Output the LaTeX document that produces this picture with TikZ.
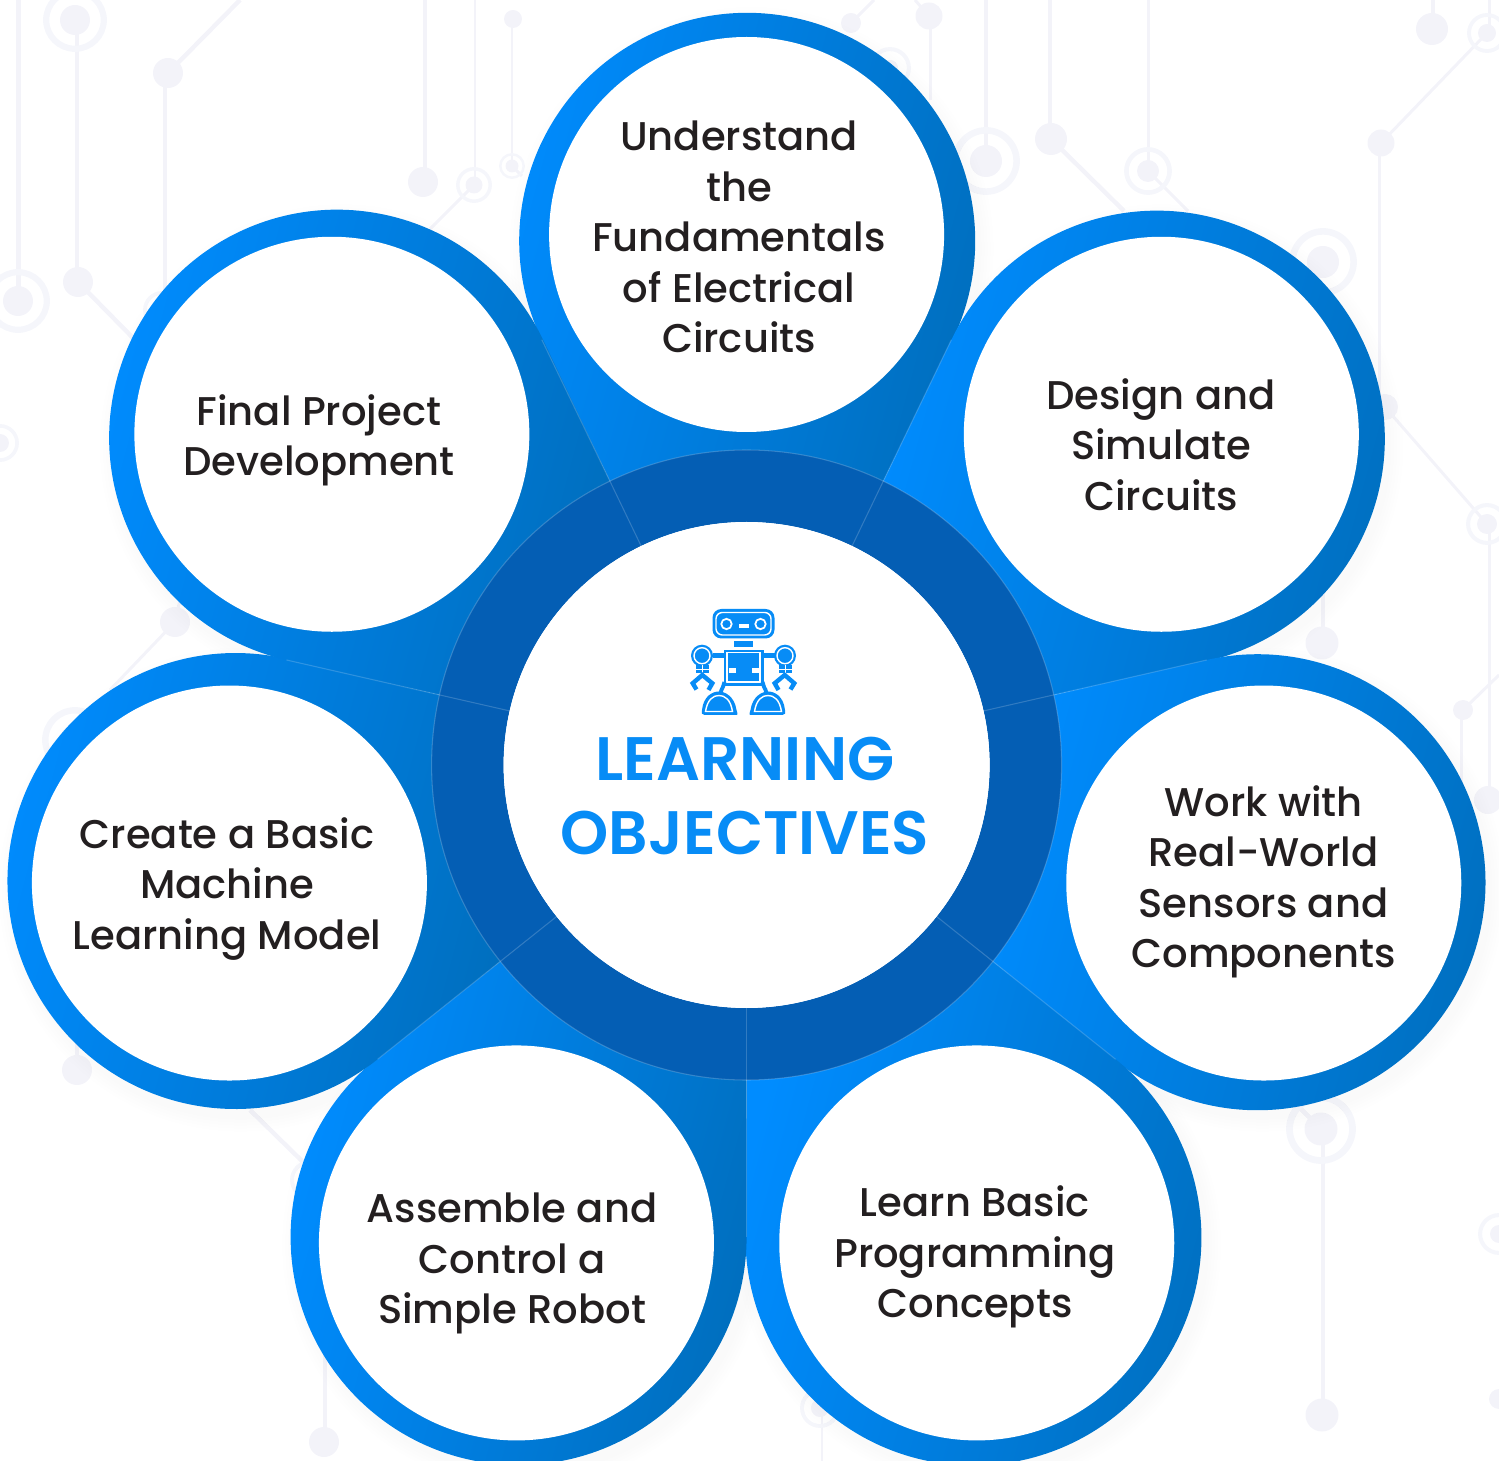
\documentclass[tikz,border=0pt]{standalone}
\usepackage{fontspec}
\setmainfont{Poppins}[UprightFont=* Medium, BoldFont=* SemiBold]
\definecolor{tearLight}{HTML}{008CFF}
\definecolor{tearMid}{HTML}{0085EA}
\definecolor{tearDark}{HTML}{006FBF}
\definecolor{ringBlue}{HTML}{045EB4}
\definecolor{iconBlue}{HTML}{078CF6}
\definecolor{wireGrey}{HTML}{F3F3F9}
\definecolor{haloGrey}{HTML}{F5F6FB}
\definecolor{inkGrey}{HTML}{231F20}

\tikzset{
  tear/.style = {left color=tearLight, middle color=tearMid, right color=tearDark, shading angle=75},
  goaltext/.style = {align=center, inner sep=0pt, text=inkGrey, font=\fontsize{11.4}{14.37}\selectfont},
  wire/.style = {draw=wireGrey, line width=1.25pt},
  thinwire/.style = {draw=wireGrey, line width=0.85pt},
}

\begin{document}
\begin{tikzpicture}[x=0.01cm, y=0.01cm]
    % page %
    \path [use as bounding box, clip] (0, 0) rectangle (1499, -1461) ;
    \coordinate (hub) at (746.6, -765) ;

    % background circuit %

    % thick wires
    \foreach \xa/\ya/\xb/\yb in {18.5/0/18.5/-301, 77/-20/77/-282, 78/-282/135/-340,
        240/0/168/-73, 165/-73/165/-310, 425/0/425/-182, 986/0/986/-161,
        1050/0/1050/-139, 1051/-139/1124/-211, 1433/0/1433/-29, 1323/-590/1323/-643,
        1323/-1129/1323/-1415, 1321/-1129/1298/-1106, 77/-1040/77/-1070,
        250/-1110/303/-1162, 325/-1350/325/-1442}
      \draw [wire] (\xa, \ya) -- (\xb, \yb) ;

    % thin wires
    \foreach \xa/\ya/\xb/\yb in {475/0/475/-185, 474/-185/430/-229, 512/-19/512/-166,
        512/-166/522/-176, 1148/0/1148/-171, 1148/-171/1188/-211, 1381/-143/1487/-33,
        1379/-143/1379/-420, 1489/0/1489/-33, 1385/-407/1487/-524, 1489/-524/1489/-800,
        1463/-710/1499/-675, 1461/-710/1461/-790, 175/-622/110/-690, 175/-622/180/-600,
        822/-1408/822/-1461, 851/-23/874/0, 929/-16/915/0, 930/-16/930/-100}
      \draw [thinwire] (\xa, \ya) -- (\xb, \yb) ;

    % plain dots
    \foreach \x/\y/\r in {168/-73/15, 78/-282/15, 423/-182/15, 513/-19/9, 1051/-139/16,
        1381/-143/13.5, 1432/-29/16, 1385/-407/13, 1322/-643/16.5, 1463/-710/10,
        1488/-800/14, 175/-622/15, 77/-1070/15, 324/-1442/15, 1322/-1415/16.5, 1499/-1399/10,
        851/-23/10, 929/-16/13.5}
      \fill [wireGrey] (\x, \y) circle [radius=\r] ;

    % ringed dots
    \foreach \x/\y/\d/\r in {75/-20/15/32, 18/-301/15/32, 474/-185/8.5/18, 512/-166/6.5/13,
        162/-310/9/19, 986/-161/16/34, 1148/-171/11/24, 1323/-262/16/34, 1487/-33/9/20,
        1487/-524/10/21, 0/-443/9/19, 75/-740/15/33, 310/-1180/9/20, 1321/-1129/16.5/35,
        1499/-1234/9/21, 820/-1408/9/20, 890/-68/8/21} {
      \fill [wireGrey] (\x, \y) circle [radius=\d] ;
      \draw [haloGrey, line width=\r*0.055pt] (\x, \y) circle [radius=\r*0.9] ;
    }


    % petals %
    \begin{scope}[shift={(hub)}]
      % soft shadow below each petal
      \foreach \a in {90, 38.571, -12.857, -64.286, -115.714, -167.143, 141.429}
        \foreach \k in {2, 5, ..., 14}
          \fill [black, opacity=0.004] ([shift={(5, -8)}]\a:524) circle [radius=228+\k] ;

      \foreach \a in {90, 38.571, -12.857, -64.286, -115.714, -167.143, 141.429} {
        \shade [tear] ({\a+25.714}:300) -- ({\a+25.714}:472)
              arc [start angle=\a+115.714, delta angle=-231.428, radius=228]
              -- ({\a-25.714}:300) -- cycle ;
      }

      % hub ring
      \fill [ringBlue, even odd rule] (0, 0) circle [radius=315] (0, 0) circle [radius=243] ;
      \draw [white, opacity=0.2, line width=0.3pt] (0, 0) circle [radius=315] ;

      % seams between petals
      \foreach \a in {64.286, 12.857, -38.571, -90, -141.429, 167.143, 115.714}
        \draw [white, opacity=0.18, line width=0.3pt] (\a:243) -- (\a:472) ;

      \fill [white] (0, 0) circle [radius=243] ;

      \foreach \a in {90, 38.571, -12.857, -64.286, -115.714, -167.143, 141.429}
        \fill [white] (\a:530.5) circle [radius=197.5] ;
    \end{scope}


    % goal labels %
    \node [goaltext] (goal-circuits) at (739, -237.2) {Understand\\the\\Fundamentals\\of Electrical\\Circuits} ;
    \node [goaltext] (goal-simulate) at (1161, -444.5) {Design and\\Simulate\\Circuits} ;
    \node [goaltext] (goal-sensors) at (1263.5, -882) {Work with\\Real-World\\Sensors and\\Components} ;
    \node [goaltext] (goal-coding) at (975, -1257) {Learn Basic\\Programming\\Concepts} ;
    \node [goaltext] (goal-robot) at (512, -1263.5) {Assemble and\\Control a\\Simple Robot} ;
    \node [goaltext] (goal-ml) at (227, -889) {Create a Basic\\Machine\\Learning Model} ;
    \node [goaltext] (goal-project) at (319, -440.5) {Final Project\\Development} ;

    % title
    \node [align=center, inner sep=0pt, text=iconBlue,
          font=\fontsize{17.45}{21}\selectfont\bfseries]
          (title) at (745, -796) {LEARNING\\OBJECTIVES} ;


    % robot, both halves from one axis %
    \begin{scope}[shift={(743.5, 0)}]
      % head
      \fill [iconBlue, rounded corners=2.5pt] (-31, -609) rectangle (31, -638.5) ;
      \draw [white, line width=0.4pt, rounded corners=1.8pt] (-27.5, -612.5) rectangle (27.5, -635) ;
      \fill [white] (-4.5, -624.5) rectangle (5.5, -628.5) ;

      % neck, body
      \fill [iconBlue] (-9.5, -641) rectangle (9.5, -647.5) ;
      \fill [iconBlue] (-20, -650) rectangle (20, -686) ;
      \draw [white, line width=0.4pt] (-16.5, -652.5) rectangle (16.5, -682) ;

      \foreach \s in {-1, 1} {
        \begin{scope}[xscale=\s]
          % eye
          \draw [white, line width=0.5pt] (17, -624) circle [radius=5.2] ;
          % body notch
          \fill [white] (8, -668) rectangle (15, -673) ;
          % arm
          \fill [iconBlue] (20, -653.5) rectangle (31, -658.5) ;
          \fill [iconBlue] (41.5, -655.7) circle [radius=11] ;
          \draw [white, line width=0.4pt] (41.5, -655.7) circle [radius=8] ;
          \fill [iconBlue] (35, -665) rectangle (48, -673) ;
          \fill [white] (41, -665) rectangle (42, -673) ;
          \fill [white] (35, -669) rectangle (48, -670) ;
          % claw
          \draw [iconBlue, line width=1.25pt] (47, -689.5) -- (50.8, -683.3) -- (41.2, -675) -- (31.2, -683.3) -- (35, -690) ;
          % leg
          \draw [iconBlue, line width=1.1pt] (19, -682) .. controls (19, -686) and (22, -688) .. (23, -693) ;
          % foot
          \fill [iconBlue] (7, -715) .. controls (5, -715) and (6.5, -712) .. (7, -710)
                .. controls (9, -696) and (19, -691.5) .. (24.5, -691.5)
                .. controls (31, -691.5) and (40, -696) .. (41.5, -710)
                .. controls (42, -713) and (42, -715) .. (39, -715) -- cycle ;
          \draw [white, line width=0.4pt] (11, -711.5) .. controls (13, -699) and (19, -695.5) .. (24.5, -695.5)
                .. controls (30, -695.5) and (36, -699) .. (38, -711.5) -- cycle ;
        \end{scope}
      }
    \end{scope}

\end{tikzpicture}
\end{document}
